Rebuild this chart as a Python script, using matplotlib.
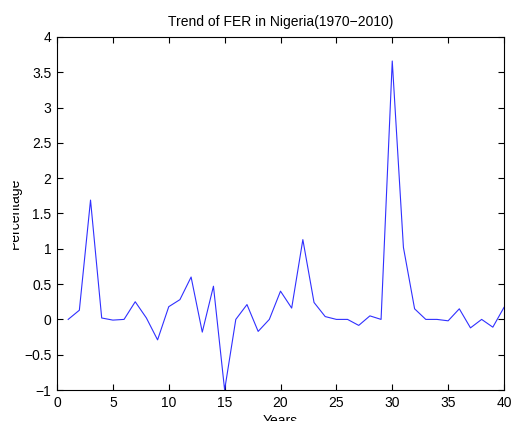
import matplotlib
matplotlib.use("Agg")
import matplotlib.pyplot as plt
from matplotlib.ticker import FuncFormatter
from matplotlib.patches import Rectangle

# FER values, one per year index 1..40
years = list(range(1, 41))
fer = [0.0, 0.13, 1.69, 0.02, -0.01, 0.0, 0.25, 0.02, -0.29, 0.18,
       0.28, 0.60, -0.18, 0.47, -1.0, 0.0, 0.21, -0.17, 0.0, 0.40,
       0.16, 1.13, 0.24, 0.04, 0.0, 0.0, -0.085, 0.05, 0.0, 3.66,
       1.02, 0.15, 0.0, 0.0, -0.02, 0.15, -0.12, 0.0, -0.11, 0.17]

plt.rcParams['font.family'] = ['Liberation Sans', 'DejaVu Sans']
plt.rcParams['font.size'] = 10

fig = plt.figure(figsize=(5.12, 4.21), dpi=100)
ax = fig.add_axes([57/512, 1 - 390/421, 447/512, 353/421])

ax.plot(years, fer, color='#3030ff', linewidth=0.8)

ax.set_xlim(0, 40)
ax.set_ylim(-1, 4)
ax.set_xticks(range(0, 41, 5))
ax.set_yticks([-1, -0.5, 0, 0.5, 1, 1.5, 2, 2.5, 3, 3.5, 4])
fmt = FuncFormatter(lambda v, p: ('%g' % v).replace('-', '\u2212'))
ax.xaxis.set_major_formatter(fmt)
ax.yaxis.set_major_formatter(fmt)
ax.tick_params(direction='in', length=4, width=0.8, top=True, right=True,
               pad=4, labelsize=10, colors='black')
for s in ax.spines.values():
    s.set_linewidth(0.8)

ax.set_title('Trend of FER in Nigeria(1970\u22122010)', fontsize=10, pad=8)
ax.set_xlabel('Years', fontsize=10)
ax.xaxis.set_label_coords(0.5, -0.067)
ax.set_ylabel('Percentage', fontsize=10)
ax.yaxis.set_label_coords(-0.078, 0.5)

# the reference image is cropped through the y label
fig.patches.append(Rectangle((0, 0), 12.5/512, 1, transform=fig.transFigure,
                             facecolor='white', edgecolor='none', zorder=10))

fig.savefig('out.png', dpi=100)
